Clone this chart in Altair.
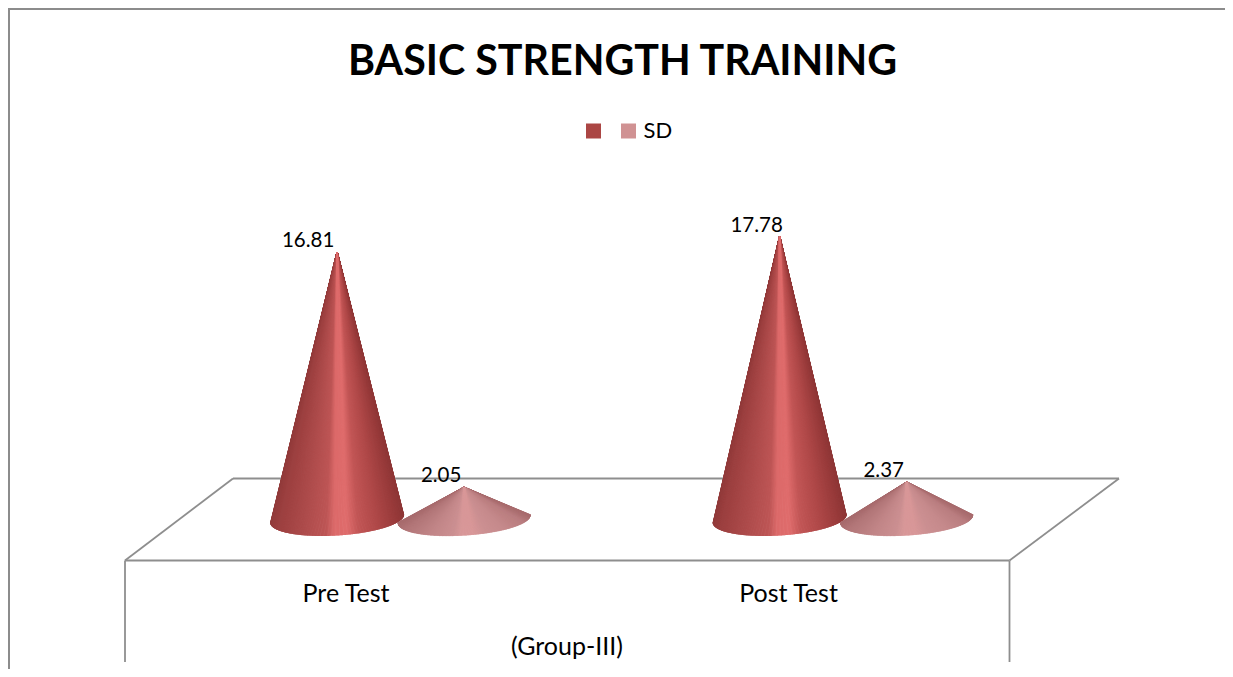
import altair as alt
import numpy as np
import pandas as pd

categories = ["Pre Test", "Post Test"]
mean_values = [16.81, 17.78]
sd_values = [2.05, 2.37]
series_names = [" ", "SD"]
series_colors = ["#ab4644", "#d09293"]
x_axis_title = "(Group-III)"
chart_title = "BASIC STRENGTH TRAINING"
FONT = "Lato"

W, H = 1217, 661
X_DOMAIN = [-0.7638, 1.9864]
Y_DOMAIN = [-9.353, 32.14]

# cone geometry, in scale units
HALF_WIDTH = 0.15
SERIES_SHIFT = [-0.02, 0.267]
CHORD_LEFT, CHORD_RIGHT, BULGE = -0.19, 0.31, 1.035

shade_pos = [0.0, 0.05, 0.25, 0.42, 0.48, 0.57, 0.66, 0.8, 0.95, 1.0]
shade_dark = [
    (0x92, 0x3c, 0x3c), (0x9c, 0x40, 0x40), (0xae, 0x4c, 0x4c), (0xbe, 0x56, 0x56),
    (0xdc, 0x6a, 0x6a), (0xe0, 0x6d, 0x6d), (0xc2, 0x56, 0x56), (0xb0, 0x49, 0x49),
    (0x98, 0x3b, 0x3b), (0x8e, 0x37, 0x37),
]
shade_light = [
    (0xa8, 0x6c, 0x6e), (0xb2, 0x76, 0x78), (0xc2, 0x86, 0x88), (0xcc, 0x90, 0x92),
    (0xd8, 0x98, 0x99), (0xd8, 0x97, 0x98), (0xcc, 0x90, 0x92), (0xc6, 0x8a, 0x8c),
    (0xba, 0x7e, 0x80), (0xa8, 0x6c, 0x6e),
]


def shade(stops, p):
    rgb = [int(np.interp(p, shade_pos, [s[i] for s in stops])) for i in range(3)]
    return "#%02x%02x%02x" % tuple(rgb)


rows = []
ray = 0
for g, (m, s) in enumerate(zip(mean_values, sd_values)):
    for k, (val, stops) in enumerate(((m, shade_dark), (s, shade_light))):
        u = g + SERIES_SHIFT[k]
        thetas = np.linspace(0, np.pi, 260)
        order = sorted(thetas, key=lambda th: abs((1 - np.cos(th)) / 2 - 0.52), reverse=True)
        for th in order:
            t = -np.cos(th)
            p = (t + 1) / 2
            chord = CHORD_LEFT + (CHORD_RIGHT - CHORD_LEFT) * p
            col = shade(stops, p)
            rows.append(dict(ray=ray, x=u, y=val, c=col))
            rows.append(dict(ray=ray, x=u + HALF_WIDTH * t, y=chord - BULGE * np.sin(th), c=col))
            ray += 1
rays = pd.DataFrame(rows)

x_scale = alt.Scale(domain=X_DOMAIN, range=[0, W], nice=False, zero=False)
y_scale = alt.Scale(domain=Y_DOMAIN, range=[H, 0], nice=False, zero=False)
X = lambda f: alt.X(f, type="quantitative", scale=x_scale, axis=None)
Y = lambda f: alt.Y(f, type="quantitative", scale=y_scale, axis=None)


def seg(x0, y0, x1, y1, color="#8e8e8e", w=1.8):
    d = pd.DataFrame({"k": [0]})
    return alt.Chart(d).mark_rule(color=color, strokeWidth=w).encode(
        x=alt.value(x0 - 8), x2=alt.value(x1 - 8), y=alt.value(y0 - 8), y2=alt.value(y1 - 8)
    )


frame = [
    seg(8, 9, 1233, 9, "#8c8c8c", 2),
    seg(9, 8, 9, 677, "#8c8c8c", 2),
    seg(125, 560.5, 233, 478.5),
    seg(233, 478.5, 1119, 478.5),
    seg(1119, 478.5, 1009.5, 560.5),
    seg(125, 560.5, 1009.5, 560.5),
    seg(125, 560.5, 125, 662),
    seg(1009.5, 560.5, 1009.5, 662),
]

cones = alt.Chart(rays).mark_line(strokeWidth=1.4, strokeCap="butt", clip=False).encode(
    x=X("x"), y=Y("y"), detail="ray:N",
    stroke=alt.Stroke("c:N", scale=None),
)

labels = []
for g, (m, s) in enumerate(zip(mean_values, sd_values)):
    for k, val in enumerate((m, s)):
        labels.append(dict(x=g + SERIES_SHIFT[k], y=val, txt=f"{val:.2f}", first=(g == 0 and k == 0)))
labels = pd.DataFrame(labels)
base_lab = alt.Chart(labels)
lab_a = base_lab.transform_filter("datum.first").mark_text(
    font=FONT, fontSize=20.5, dx=-29, dy=-11, color="#000000"
).encode(x=X("x"), y=Y("y"), text="txt:N")
lab_b = base_lab.transform_filter("!datum.first").mark_text(
    font=FONT, fontSize=20.5, dx=-23, dy=-11, color="#000000"
).encode(x=X("x"), y=Y("y"), text="txt:N")

cat_df = pd.DataFrame({"x": [0, 1], "cat": categories})
cat_text = alt.Chart(cat_df).mark_text(font=FONT, fontSize=25, color="#000000").encode(
    x=X("x"), y=alt.value(594 - 8), text="cat:N"
)
group_text = alt.Chart(pd.DataFrame({"t": [x_axis_title]})).mark_text(
    font=FONT, fontSize=25, color="#000000"
).encode(x=alt.value(567 - 8), y=alt.value(647 - 8), text="t:N")

legend_layer = alt.Chart(pd.DataFrame({"s": series_names})).transform_filter(
    "datum.s === 'none'"
).mark_square().encode(
    fill=alt.Fill(
        "s:N",
        scale=alt.Scale(domain=series_names, range=series_colors),
        legend=alt.Legend(
            title=None, orient="none", legendX=574.5, legendY=112, direction="horizontal",
            symbolType="square", symbolSize=225, symbolStrokeWidth=0, symbolOpacity=1,
            labelFont=FONT, labelFontSize=22, labelColor="#000000", columnPadding=9,
            labelOffset=4, padding=0,
        ),
    )
)

chart = alt.layer(
    *frame, cones, lab_a, lab_b, cat_text, group_text, legend_layer
).properties(
    width=W,
    height=H,
    padding=0,
    background="#ffffff",
    autosize=alt.AutoSizeParams(type="none"),
    title=alt.TitleParams(
        chart_title, font=FONT, fontSize=41.2, fontWeight="bold", color="#000000",
        anchor="middle", dx=6, dy=76, offset=0,
    ),
).configure_view(stroke=None)

chart.save("out.html", embed_options={"renderer": "svg", "actions": False})
